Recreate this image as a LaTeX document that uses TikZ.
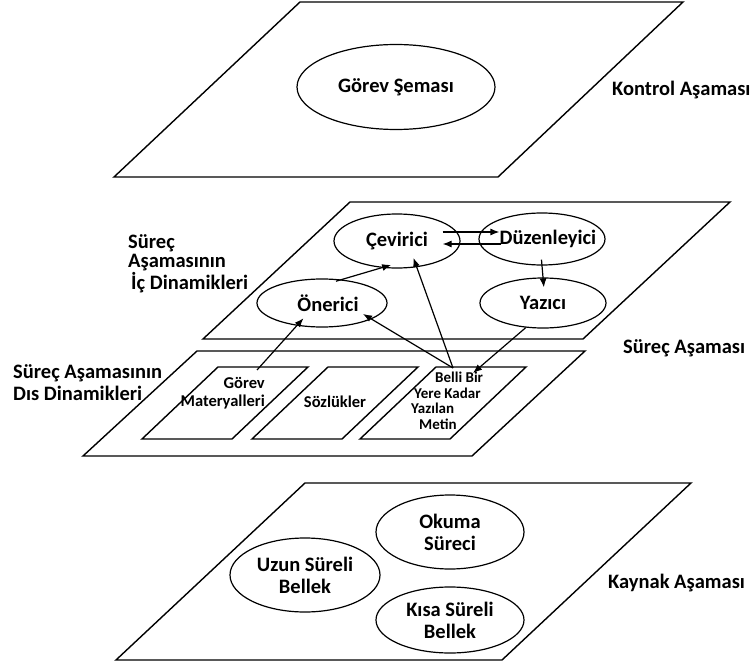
\documentclass[tikz,border=0pt]{standalone}
\usepackage{fontspec}
\setmainfont{Carlito}
\usetikzlibrary{shapes.geometric, arrows.meta}

\begin{document}
\begin{tikzpicture}[
    x=1pt, y=-1pt,
    every node/.style = {font=\bfseries\fontsize{20.5}{22}\selectfont, align=left, inner sep=0pt},
    every label/.style = {align=center},
    oval/.style = {shape=ellipse, draw, line width=1.2pt},
    plane/.style = {draw, line width=1.4pt},
    link/.style = {-{Latex[length=9pt,width=7pt]}, line width=1.2pt, shorten >=-10pt}
    ]
    \useasboundingbox (0,0) rectangle (756,669);
    % the four planes and the three boxes
    \draw[plane] (300,2) -- (683,2) -- (498,177) -- (114,177) -- cycle;
    \draw[plane] (350,202) -- (730,202) -- (583,339) -- (203,339) -- cycle;
    \draw[plane] (197,351) -- (585,351) -- (472,456) -- (83,456) -- cycle;
    \foreach \dx in {0,110,218}
        \draw[plane] (218+\dx,367) -- ++(90,0) -- ++(-76,72) -- ++(-90,0) -- cycle;
    \draw[plane] (305,483) -- (691,483) -- (502,660) -- (116,660) -- cycle;

    \node[oval, minimum width=198pt, minimum height=85pt, label=center:{Görev Şeması}] (gs) at (396,87) {};
    \node[oval, minimum width=126pt, minimum height=54pt, label=center:{Çevirici}] (cev) at (397,241) {};
    \node[oval, minimum width=126pt, minimum height=52pt, label={[xshift=6pt]center:Düzenleyici}] (duz) at (542,239) {};
    \node[oval, minimum width=130pt, minimum height=48pt, label={[xshift=6pt]center:Önerici}] (oner) at (322,303) {};
    \node[oval, minimum width=126pt, minimum height=50pt, label=center:{Yazıcı}] (yaz) at (543,303) {};
    \node[oval, minimum width=148pt, minimum height=74pt, label=center:{Okuma\\Süreci}] (oku) at (450,532) {};
    \node[oval, minimum width=150pt, minimum height=74pt, label=center:{Uzun Süreli\\Bellek}] (uzun) at (305,575) {};
    \node[oval, minimum width=148pt, minimum height=66pt, label=center:{Kısa Süreli\\Bellek}] (kisa) at (450,620) {};

    \node[anchor=west] (kontrol) at (612,90) {Kontrol Aşaması};
    \node[anchor=west, font=\bfseries\fontsize{20.5}{19}\selectfont] (icdin) at (128,264) {Süreç\\Aşamasının\\\hspace*{3pt}İç Dinamikleri};
    \node[anchor=west] (disdin) at (13,383) {Süreç Aşamasının\\Dıs Dinamikleri};
    \node[anchor=west] (surec) at (623,348) {Süreç Aşaması};
    \node[anchor=west] (kaynak) at (608,583) {Kaynak Aşaması};
    \node[anchor=east, align=right, font=\bfseries\fontsize{16.5}{18}\selectfont] (gm) at (265,393) {Görev\\Materyalleri};
    \node[font=\bfseries\fontsize{16.5}{18}\selectfont] (soz) at (335,402) {Sözlükler};
    \node[anchor=north west, font=\bfseries\fontsize{15}{15.5}\selectfont] (bb) at (411,372)
        {\hspace*{24pt}Belli Bir\\\hspace*{3pt}Yere Kadar\\Yazılan\\\hspace*{8pt}Metin};

    \coordinate (gmtop) at (257,370);
    \coordinate (bbtop) at (453,368);
    \coordinate (bbin) at (473,373);

    \draw[link, shorten <=-6pt] (oner.50) -- (cev.240);
    \draw[link, shorten <=-6pt] (duz.south) -- (yaz.north);
    \draw[link, shorten >=0pt] ([xshift=-18pt,yshift=9pt]cev.east) -- ([xshift=21pt,yshift=7pt]duz.west);
    \draw[link, shorten >=0pt] ([xshift=23pt,yshift=-5pt]duz.west) -- ([xshift=-18pt,yshift=-3pt]cev.east);
    \draw[link] (gmtop) -- (oner.222);
    \draw[link] (bbtop) -- (oner.342);
    \draw[link] (bbtop) -- (cev.307);
    \draw[link, shorten >=0pt] (yaz.235) -- (bbin);
\end{tikzpicture}
\end{document}
